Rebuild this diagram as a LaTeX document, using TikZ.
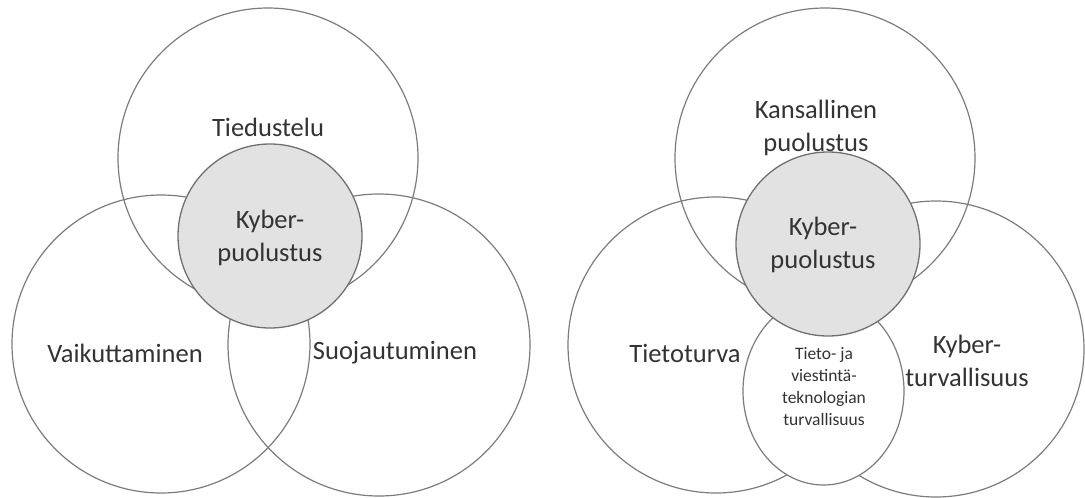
\documentclass[tikz,border=0pt]{standalone}
\usepackage{fontspec}
\setmainfont{Carlito}
\usetikzlibrary{shapes.geometric}
\definecolor{ringcol}{HTML}{7C7C7C}
\definecolor{corecol}{HTML}{E2E2E2}
\definecolor{txtcol}{HTML}{333333}
\tikzset{
  ring/.style={circle, draw=ringcol, line width=1.2pt, inner sep=0pt, minimum size=#1},
  core/.style={circle, draw=ringcol!90!black, fill=corecol, line width=1.3pt, inner sep=0pt, minimum size=#1},
  oval/.style={ellipse, draw=ringcol, fill=white, line width=1.2pt, inner sep=0pt},
  lbl/.style={text=txtcol, align=center, inner sep=0pt, font=\fontsize{26.5}{33}\selectfont},
  small/.style={text=txtcol, align=center, inner sep=0pt, font=\fontsize{17.5}{22}\selectfont}
}
\begin{document}
\begin{tikzpicture}[x=1pt, y=-1pt]
\useasboundingbox (0,0) rectangle (1085,498);
% ---------- left diagram ----------
\node[ring=300pt] (Ltop) at (268,158) {};
\node[ring=298pt] (Lleft) at (161,344) {};
\node[ring=302pt] (Lright) at (379,345) {};
\node[core=184pt] (Lcore) at (270,236) {};
\node[lbl] (tTied) at (268,127) {Tiedustelu};
\node[lbl] (tVaik) at (125,353) {Vaikuttaminen};
\node[lbl] (tSuoj) at (395,353) {Suojautuminen};
\node[lbl] (tLcore) at (270,238) {Kyber-\\puolustus};
% ---------- right diagram ----------
\node[ring=300pt] (Rtop) at (825,158) {};
\node[ring=296pt] (Rleft) at (716,345) {};
\node[ring=296pt] (Rright) at (936,349) {};
\node[oval, minimum width=161pt, minimum height=188pt] (Roval) at (823.5,391) {};
\node[core=184pt] (Rcore) at (828,244) {};
\node[lbl] (tKans) at (816,128) {Kansallinen\\puolustus};
\node[lbl] (tTiet) at (685,353) {Tietoturva};
\node[lbl] (tKybt) at (967,361) {Kyber-\\turvallisuus};
\node[lbl] (tRcore) at (823,245) {Kyber-\\puolustus};
\node[small] (tTvt) at (824,387) {Tieto- ja\\viestintä-\\teknologian\\turvallisuus};
\end{tikzpicture}
\end{document}
